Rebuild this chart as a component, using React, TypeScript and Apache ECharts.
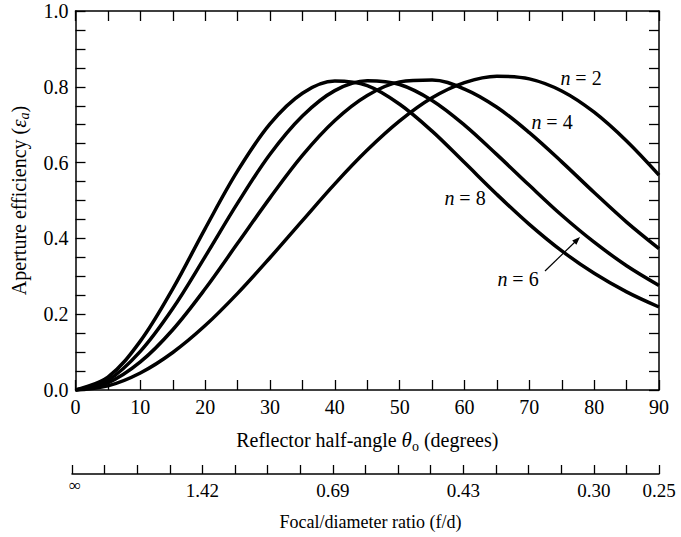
import React, { useEffect, useRef } from "react";
import * as echarts from "echarts";

// Reflector half-angle (degrees)
const thetaDeg = [0, 5, 10, 15, 20, 25, 30, 35, 40, 45, 50, 55, 60, 65, 70, 75, 80, 85, 90];
// Aperture efficiency
const effN2 = [0, 0.011, 0.045, 0.099, 0.170, 0.255, 0.349, 0.447, 0.544, 0.633, 0.710, 0.771, 0.811, 0.828, 0.821, 0.789, 0.733, 0.657, 0.567];
const effN4 = [0, 0.019, 0.074, 0.159, 0.267, 0.387, 0.507, 0.619, 0.711, 0.777, 0.813, 0.818, 0.794, 0.746, 0.679, 0.602, 0.521, 0.443, 0.373];
const effN6 = [0, 0.026, 0.102, 0.215, 0.352, 0.493, 0.622, 0.723, 0.790, 0.816, 0.806, 0.764, 0.699, 0.621, 0.540, 0.461, 0.390, 0.328, 0.276];
const effN8 = [0, 0.034, 0.129, 0.267, 0.426, 0.578, 0.702, 0.783, 0.815, 0.803, 0.754, 0.683, 0.600, 0.516, 0.437, 0.367, 0.308, 0.259, 0.219];
const seriesNames = ["n = 2", "n = 4", "n = 6", "n = 8"];
// Focal/diameter secondary scale
const fdTickDeg = [0, 20, 40, 60, 80, 90];
const fdLabels = ["∞", "1.42", "0.69", "0.43", "0.30", "0.25"];

const FONT = "'Liberation Serif', 'Times New Roman', serif";
const BLACK = "#000";

export default function App() {
  const ref = useRef<HTMLDivElement>(null);
  useEffect(() => {
    if (!ref.current) return;
    const chart = echarts.init(ref.current, undefined, { renderer: "svg" });
    const axisLine = { show: true, onZero: false, lineStyle: { color: BLACK, width: 1.5 } };
    const tick = (len: number) => ({ show: true, inside: true, length: len, lineStyle: { color: BLACK, width: 1.3 } });
    const minor = (n: number) => ({ show: true, splitNumber: n, length: 10, lineStyle: { color: BLACK, width: 1.3 } });
    const labelStyle = { color: BLACK, fontSize: 20, fontFamily: FONT };
    const all = [effN2, effN4, effN6, effN8];
    const labelText = (s: string) => "{i|n}" + s.slice(1);
    const richN = { i: { fontStyle: "italic", fontSize: 20, fontFamily: FONT, fill: BLACK, color: BLACK } };

    chart.setOption({
      animation: false,
      textStyle: { fontFamily: FONT },
      grid: [
        { left: 72, right: 22, top: 11, height: 379 },
        { left: 72, right: 22, top: 473, height: 1 },
      ],
      xAxis: [
        {
          type: "value", gridIndex: 0, position: "bottom", min: 0, max: 90, interval: 10,
          axisLine, axisTick: tick(10), minorTick: minor(2), splitLine: { show: false },
          axisLabel: { ...labelStyle, margin: 7, showMinLabel: true, showMaxLabel: true },
          name: "Reflector half-angle {t|θ}{s|o} (degrees)",
          nameLocation: "middle", nameGap: 37,
          nameTextStyle: {
            color: BLACK, fontSize: 20, fontFamily: FONT,
            rich: {
              t: { fontStyle: "italic", fontSize: 21, fontFamily: FONT, color: BLACK },
              s: { fontSize: 14, fontFamily: FONT, color: BLACK, padding: [12, 0, 0, 0] },
            },
          },
        },
        {
          type: "value", gridIndex: 0, position: "top", min: 0, max: 90, interval: 10,
          axisLine, axisTick: tick(10), minorTick: minor(2), splitLine: { show: false },
          axisLabel: { show: false },
        },
        {
          type: "value", gridIndex: 1, position: "bottom", min: 0, max: 90, interval: 5,
          axisLine, axisTick: tick(9), splitLine: { show: false },
          axisLabel: {
            ...labelStyle, fontSize: 19, margin: 7, showMinLabel: true, showMaxLabel: true,
            formatter: (v: number) => {
              const k = fdTickDeg.indexOf(v);
              if (k < 0) return "";
              return k === 0 ? "{inf|" + fdLabels[k] + "}" : fdLabels[k];
            },
            rich: { inf: { fontSize: 17, fontFamily: FONT, color: BLACK, lineHeight: 8, padding: [0, 0, 0, 6] } },
          },
          name: "Focal/diameter ratio (f/d)",
          nameLocation: "middle", nameGap: 39,
          nameTextStyle: { color: BLACK, fontSize: 18, fontFamily: FONT, padding: [0, 0, 0, 10] },
        },
      ],
      yAxis: [
        {
          type: "value", gridIndex: 0, position: "left", min: 0, max: 1, interval: 0.2,
          axisLine, axisTick: tick(10), minorTick: minor(4), splitLine: { show: false },
          axisLabel: { ...labelStyle, margin: 7, formatter: (v: number) => v.toFixed(1) },
          name: "Aperture efficiency ({e|ε}{s|a})",
          nameLocation: "middle", nameGap: 44, nameRotate: 90,
          nameTextStyle: {
            color: BLACK, fontSize: 20, fontFamily: FONT,
            rich: {
              e: { fontStyle: "italic", fontSize: 21, fontFamily: FONT, color: BLACK },
              s: { fontStyle: "italic", fontSize: 14, fontFamily: FONT, color: BLACK, padding: [12, 0, 0, 0] },
            },
          },
        },
        {
          type: "value", gridIndex: 0, position: "right", min: 0, max: 1, interval: 0.2,
          axisLine, axisTick: tick(10), minorTick: minor(4), splitLine: { show: false },
          axisLabel: { show: false },
        },
        { type: "value", gridIndex: 1, show: false, min: 0, max: 1 },
      ],
      series: all.map((vals, i) => ({
        name: seriesNames[i],
        type: "line",
        xAxisIndex: 0,
        yAxisIndex: 0,
        data: thetaDeg.map((t, j) => [t, vals[j]]),
        smooth: 0.35,
        showSymbol: false,
        symbol: "none",
        lineStyle: { color: BLACK, width: 3.5 },
        z: 3,
      })),
      graphic: [
        { type: "text", x: 581, y: 78, style: { text: labelText(seriesNames[0]), fontSize: 20, fontFamily: FONT, fill: BLACK, align: "center", verticalAlign: "middle", rich: richN } },
        { type: "text", x: 552, y: 122, style: { text: labelText(seriesNames[1]), fontSize: 20, fontFamily: FONT, fill: BLACK, align: "center", verticalAlign: "middle", rich: richN } },
        { type: "text", x: 518, y: 279, style: { text: labelText(seriesNames[2]), fontSize: 20, fontFamily: FONT, fill: BLACK, align: "center", verticalAlign: "middle", rich: richN } },
        { type: "text", x: 465, y: 198, style: { text: labelText(seriesNames[3]), fontSize: 20, fontFamily: FONT, fill: BLACK, align: "center", verticalAlign: "middle", rich: richN } },
        { type: "line", shape: { x1: 545, y1: 271, x2: 576, y2: 241 }, style: { stroke: BLACK, lineWidth: 1.2 } },
        { type: "polygon", shape: { points: [[580, 237], [576.4, 244.7], [572.2, 240.4]] }, style: { fill: BLACK } },
      ],
    });
    return () => chart.dispose();
  }, []);
  return <div ref={ref} style={{ position: "fixed", left: 0, top: 0, width: 681, height: 537, background: "#fff" }} />;
}
